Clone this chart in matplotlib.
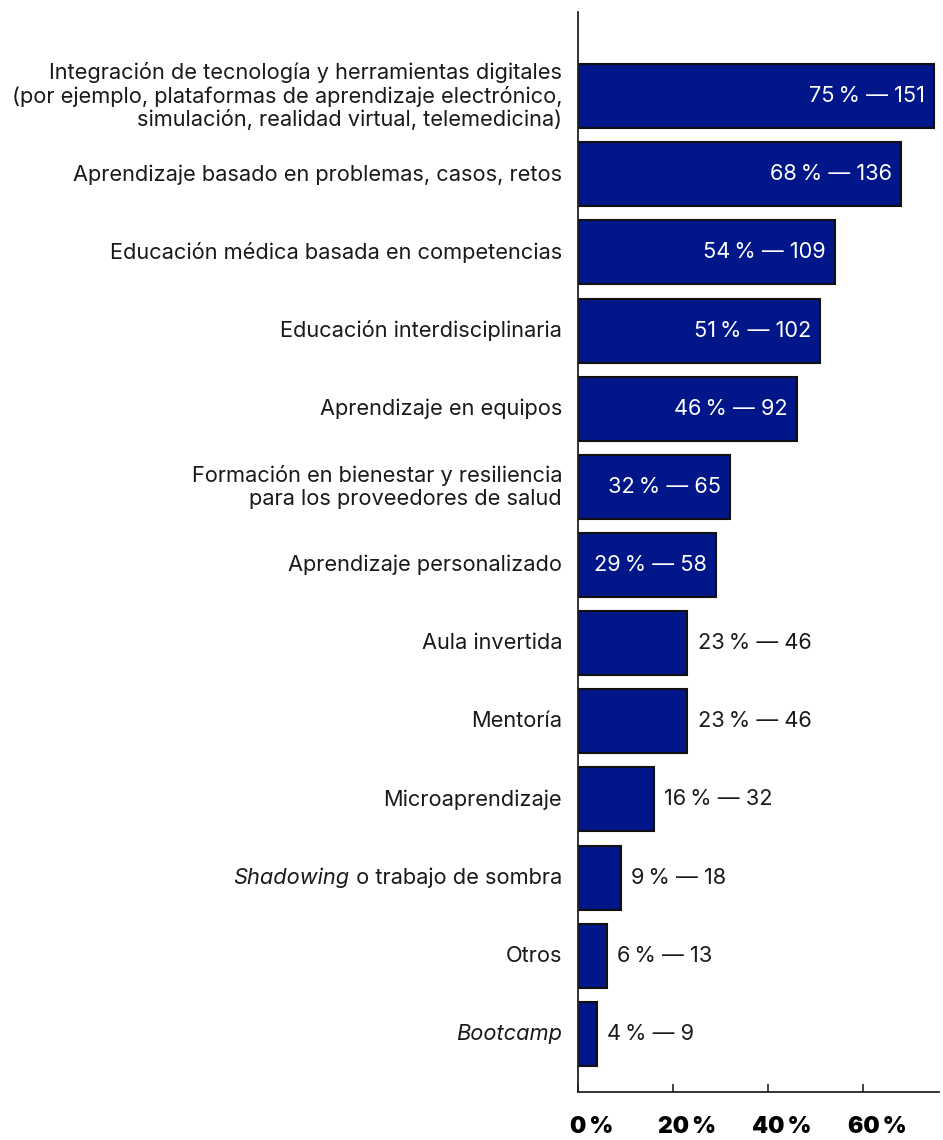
import matplotlib.pyplot as plt
import matplotlib.transforms as mtransforms

plt.rcParams['font.family'] = ['Inter', 'DejaVu Sans']

categories = [
    'Integración de tecnología y herramientas digitales\n(por ejemplo, plataformas de aprendizaje electrónico,\nsimulación, realidad virtual, telemedicina)',
    'Aprendizaje basado en problemas, casos, retos',
    'Educación médica basada en competencias',
    'Educación interdisciplinaria',
    'Aprendizaje en equipos',
    'Formación en bienestar y resiliencia\npara los proveedores de salud',
    'Aprendizaje personalizado',
    'Aula invertida',
    'Mentoría',
    'Microaprendizaje',
    'Shadowing o trabajo de sombra',
    'Otros',
    'Bootcamp',
]
# italic part of each label (prefix), '' if none
italic_part = ['', '', '', '', '', '', '', '', '', '', 'Shadowing', '', 'Bootcamp']
percents = [75, 68, 54, 51, 46, 32, 29, 23, 23, 16, 9, 6, 4]
counts = [151, 136, 109, 102, 92, 65, 58, 46, 46, 32, 18, 13, 9]
xticks = [0, 20, 40, 60]

bar_color = '#001689'
text_color = '#1a1a1a'

fig = plt.figure(figsize=(9.43, 11.4), dpi=100)
ax = fig.add_axes([578/943, 1 - 1092/1140, (939 - 578)/943, (1092 - 12)/1140])

y = list(range(len(categories)))
ax.barh(y, percents, height=0.82, color=bar_color, edgecolor='#111111', linewidth=1.5)
ax.set_xlim(0, 76)
ax.set_ylim(12.744, -1.077)

for s in ['top', 'right', 'left']:
    ax.spines[s].set_visible(s == 'left')
ax.spines['left'].set_linewidth(1.3)
ax.spines['bottom'].set_linewidth(1.3)
ax.spines['left'].set_color('#222222')
ax.spines['bottom'].set_color('#222222')

ax.set_yticks([])
ax.set_xticks(xticks)
ax.set_xticklabels([f'{t}\u202f%' for t in xticks], fontsize=16.5, fontweight='black')
ax.tick_params(axis='x', direction='in', length=6, width=1.2, pad=17, color='#222222')
# tick labels sit slightly right of the ticks
for lbl in ax.get_xticklabels():
    lbl.set_transform(lbl.get_transform() + mtransforms.ScaledTranslation(14/100, 0, fig.dpi_scale_trans))

fig.canvas.draw()
renderer = fig.canvas.get_renderer()

label_size = 15.7
trans = ax.get_yaxis_transform() + mtransforms.ScaledTranslation(-16/100, 0, fig.dpi_scale_trans)
for i, lab in enumerate(categories):
    it = italic_part[i]
    if it:
        rest = lab[len(it):]
        if rest:
            t = ax.text(0, i, rest, transform=trans, ha='right', va='center', fontsize=label_size, color=text_color)
            w = t.get_window_extent(renderer).width
            tr2 = trans + mtransforms.ScaledTranslation(-w/100, 0, fig.dpi_scale_trans)
            ax.text(0, i, it, transform=tr2, ha='right', va='center', fontsize=label_size, style='italic', color=text_color)
        else:
            ax.text(0, i, it, transform=trans, ha='right', va='center', fontsize=label_size, style='italic', color=text_color)
    else:
        ax.text(0, i, lab, transform=trans, ha='right', va='center', fontsize=label_size,
                color=text_color, linespacing=1.15, multialignment='right')

for i, (p, c) in enumerate(zip(percents, counts)):
    txt = f'{p}\u202f% — {c}'
    if p >= 29:
        ax.text(p - 1.9, i, txt, ha='right', va='center', fontsize=label_size, color='white')
    else:
        ax.text(p + 2.2, i, txt, ha='left', va='center', fontsize=label_size, color=text_color)

fig.savefig('out.png', dpi=100)
